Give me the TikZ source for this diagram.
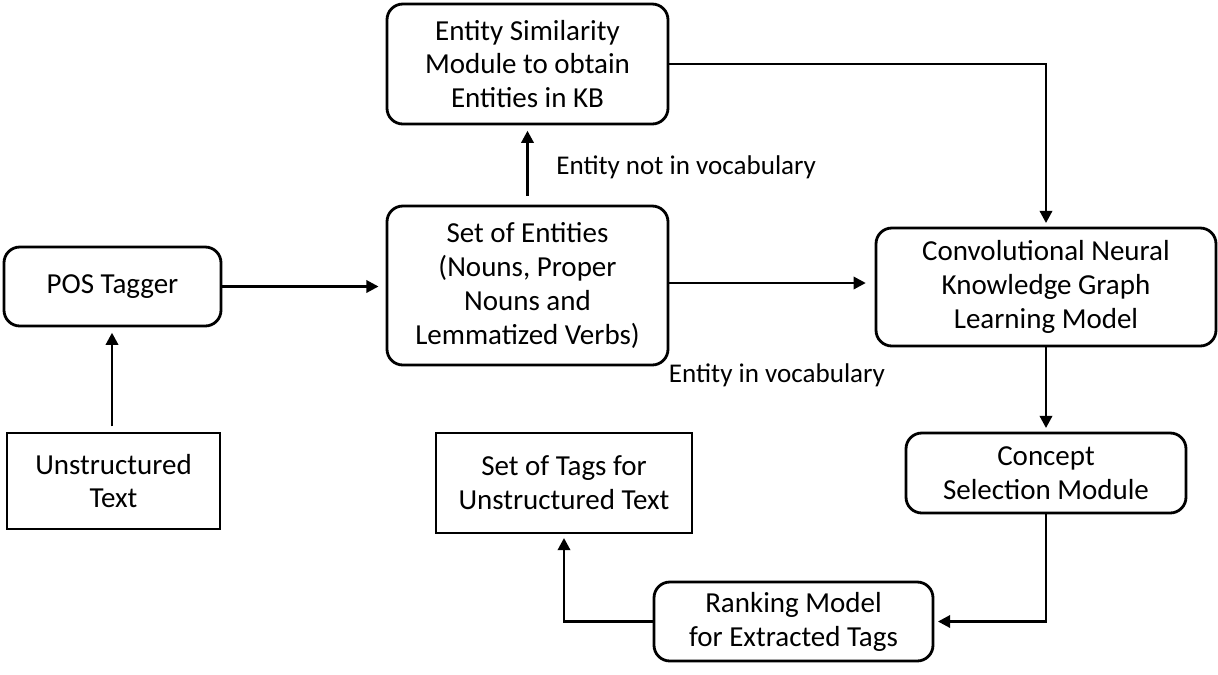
\documentclass[tikz,border=0pt]{standalone}
\usepackage{fontspec}
\setmainfont{Carlito}
\usepackage{tikz}
\usetikzlibrary{arrows.meta, calc, positioning}

\begin{document}
\begin{tikzpicture}[x=0.02cm, y=-0.02cm,
    box/.style={draw, line width=1.6pt, align=center, inner sep=0pt,
        font=\fontsize{16.5}{19.3}\selectfont},
    rbox/.style={box, rounded corners=9pt},
    lbl/.style={inner sep=0pt, font=\fontsize{15.4}{19.3}\selectfont},
    flow/.style={line width=1.6pt, -{Triangle[length=7pt, width=7pt]}}]
    \useasboundingbox (0, 0) rectangle (1218, 674);

    % 方框
    \node[rbox, minimum width=281*0.02cm, minimum height=120*0.02cm] (sim) at (527.5, 64)
        {Entity Similarity\\Module to obtain\\Entities in KB};
    \node[rbox, minimum width=281*0.02cm, minimum height=159*0.02cm] (ents) at (527.5, 285.5)
        {Set of Entities\\(Nouns, Proper\\Nouns and\\Lemmatized Verbs)};
    \node[rbox, minimum width=217*0.02cm, minimum height=79*0.02cm] (pos) at (112.5, 286.5)
        {POS Tagger};
    \node[box, minimum width=213*0.02cm, minimum height=96*0.02cm] (txt) at (113.5, 481)
        {Unstructured\\Text};
    \node[box, minimum width=256*0.02cm, minimum height=100*0.02cm] (tags) at (564, 483)
        {Set of Tags for\\Unstructured Text};
    \node[rbox, minimum width=340*0.02cm, minimum height=118*0.02cm] (cnn) at (1046, 287)
        {Convolutional Neural\\Knowledge Graph\\Learning Model};
    \node[rbox, minimum width=280*0.02cm, minimum height=80*0.02cm] (con) at (1046, 473)
        {Concept\\Selection Module};
    \node[rbox, minimum width=279*0.02cm, minimum height=79*0.02cm] (rank) at (793.5, 621.5)
        {Ranking Model\\for Extracted Tags};

    % 标签
    \node[lbl, anchor=west] (notin) at (556, 167) {Entity not in vocabulary};
    \node[lbl] (isin) at (777, 375) {Entity in vocabulary};

    % 箭头
    \draw[flow, shorten <=3pt, shorten >=3pt] (txt.north -| 112, 0) -- (pos.south -| 112, 0);
    \draw[flow, shorten >=4pt] (pos.east) -- (ents.west |- pos.east);
    \draw[flow, shorten <=5pt, shorten >=3pt] (ents.north) -- (sim.south);
    \draw[flow, shorten >=5pt] (ents.east |- 0, 283) -- (cnn.west |- 0, 283);
    \draw[flow, shorten >=2pt] (sim.east) -| (cnn.north);
    \draw[flow, shorten >=2pt] (cnn.south) -- (con.north);
    \draw[flow, shorten >=2pt] (con.south) |- (rank.east);
    \draw[flow, shorten >=2pt] (rank.west) -| (tags.south);
\end{tikzpicture}
\end{document}
